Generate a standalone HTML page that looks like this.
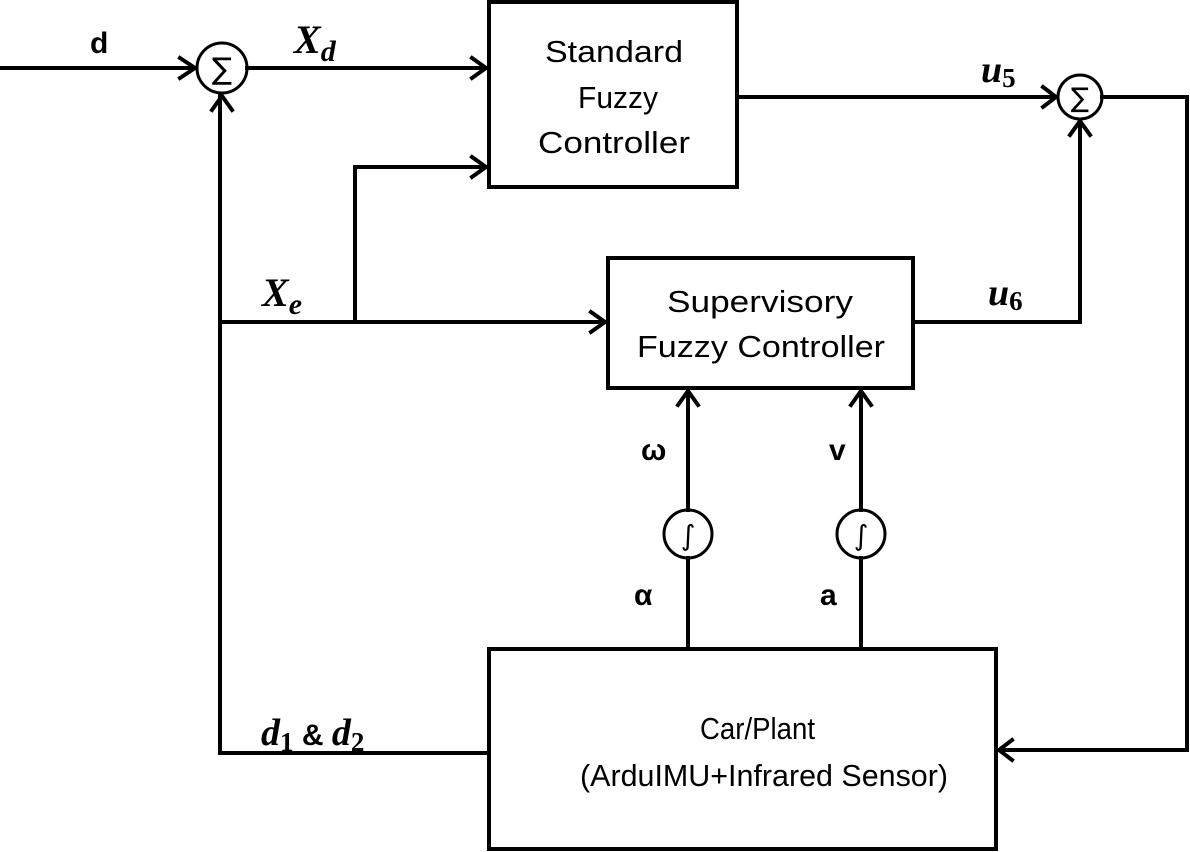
<!DOCTYPE html>
<html><head><meta charset="utf-8"><style>
html,body{margin:0;padding:0;background:#fff;}
svg{display:block;}
.b{font-family:"Liberation Sans",sans-serif;font-size:31px;fill:#000;}
.m{font-family:"Liberation Serif",serif;font-style:italic;font-weight:bold;fill:#000;}
</style></head><body>
<svg width="1190" height="852" viewBox="0 0 1190 852" xmlns="http://www.w3.org/2000/svg">
<g stroke="#000" stroke-width="4" fill="none" stroke-linecap="square">
<rect x="489" y="2" width="248" height="185"/>
<rect x="608" y="258" width="305" height="130"/>
<rect x="489" y="649" width="507" height="200"/>
<circle cx="222" cy="68" r="25" stroke-width="3"/>
<circle cx="1080" cy="97" r="22" stroke-width="3"/>
<circle cx="688" cy="534" r="24" stroke-width="3"/>
<circle cx="861" cy="534" r="24" stroke-width="3"/>
<path d="M0 68 H195"/>
<path d="M247 68 H486"/>
<path d="M220 753 V96"/>
<path d="M220 322 H605"/>
<path d="M355 322 V167 H486"/>
<path d="M737 97 H1056"/>
<path d="M913 322 H1080 V121"/>
<path d="M1102 97 H1187 V750 H999"/>
<path d="M220 753 H489"/>
<path d="M688 649 V558 M688 510 V391"/>
<path d="M861 649 V558 M861 510 V391"/>
<path d="M180 58 L195 68 L180 78"/>
<path d="M472 58 L486 68 L472 78"/>
<path d="M472 157 L486 167 L472 177"/>
<path d="M591 312 L605 322 L591 332"/>
<path d="M1043 87 L1056 97 L1043 107"/>
<path d="M212 110 L222 96 L232 110"/>
<path d="M1070 135 L1080 121 L1090 135"/>
<path d="M678 405 L688 391 L698 405"/>
<path d="M851 405 L861 391 L871 405"/>
<path d="M1012 740 L999 750 L1012 760"/>
</g>
<text x="222" y="79" font-size="30" text-anchor="middle" font-family="DejaVu Sans">∑</text>
<text x="1080" y="107" font-size="27" text-anchor="middle" font-family="DejaVu Sans">∑</text>
<text x="688" y="545" font-size="28" text-anchor="middle" font-family="DejaVu Sans">∫</text>
<text x="861" y="545" font-size="28" text-anchor="middle" font-family="DejaVu Sans">∫</text>
<text class="b" x="545" y="62" textLength="138" lengthAdjust="spacingAndGlyphs">Standard</text>
<text class="b" x="578" y="108" textLength="80" lengthAdjust="spacingAndGlyphs">Fuzzy</text>
<text class="b" x="538" y="153" textLength="152" lengthAdjust="spacingAndGlyphs">Controller</text>
<text class="b" x="667" y="312" textLength="186" lengthAdjust="spacingAndGlyphs">Supervisory</text>
<text class="b" x="637" y="357" textLength="248" lengthAdjust="spacingAndGlyphs">Fuzzy Controller</text>
<text class="b" x="700" y="739" textLength="115" lengthAdjust="spacingAndGlyphs">Car/Plant</text>
<text class="b" x="580" y="786" textLength="368" lengthAdjust="spacingAndGlyphs">(ArduIMU+Infrared Sensor)</text>
<text x="90" y="53" font-size="30" font-weight="bold" font-family="Liberation Sans">d</text>
<text class="m" x="294" y="53" font-size="40">X<tspan font-size="30" dy="8">d</tspan></text>
<text class="m" x="262" y="306" font-size="40">X<tspan font-size="30" dy="8">e</tspan></text>
<text class="m" x="981" y="82" font-size="38">u<tspan font-size="27" dy="5" font-style="normal">5</tspan></text>
<text class="m" x="988" y="305" font-size="38">u<tspan font-size="27" dy="5" font-style="normal">6</tspan></text>
<text class="m" x="261" y="745" font-size="38">d<tspan font-size="27" dy="6" font-style="normal">1</tspan><tspan dy="-6" font-style="normal" font-family="Liberation Sans" font-size="30"> &amp; </tspan>d<tspan font-size="27" dy="6" font-style="normal">2</tspan></text>
<text x="641" y="460" font-size="30" font-weight="bold" font-family="Liberation Sans">ω</text>
<text x="829" y="460" font-size="30" font-weight="bold" font-family="Liberation Sans">v</text>
<text x="634" y="605" font-size="30" font-weight="bold" font-family="Liberation Sans">α</text>
<text x="820" y="605" font-size="30" font-weight="bold" font-family="Liberation Sans">a</text>
</svg>
</body></html>
